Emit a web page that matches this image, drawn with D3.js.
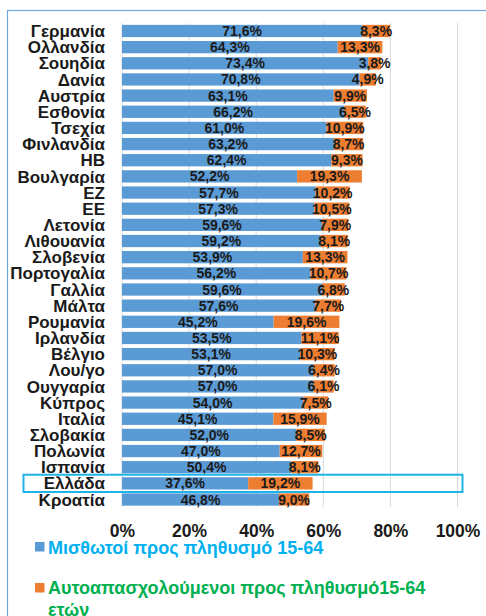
<!DOCTYPE html>
<html>
<head>
<meta charset="utf-8">
<script src="https://cdn.jsdelivr.net/npm/d3@7"></script>
<style>
  html, body { margin: 0; padding: 0; background: #fff; }
  svg { display: block; font-family: "Liberation Sans", Arial, sans-serif; }
</style>
</head>
<body>
<div id="chart"></div>
<script>
// Countries, top to bottom
const countries = ['Γερμανία', 'Ολλανδία', 'Σουηδία', 'Δανία', 'Αυστρία', 'Εσθονία', 'Τσεχία',
    'Φινλανδία', 'ΗΒ', 'Βουλγαρία', 'ΕΖ', 'ΕΕ', 'Λετονία', 'Λιθουανία', 'Σλοβενία', 'Πορτογαλία',
    'Γαλλία', 'Μάλτα', 'Ρουμανία', 'Ιρλανδία', 'Βέλγιο', 'Λου/γο', 'Ουγγαρία', 'Κύπρος', 'Ιταλία',
    'Σλοβακία', 'Πολωνία', 'Ισπανία', 'Ελλάδα', 'Κροατία'];
// Employees / population 15-64 (%)
const employees = [71.6, 64.3, 73.4, 70.8, 63.1, 66.2, 61.0, 63.2, 62.4, 52.2, 57.7, 57.3, 59.6,
    59.2, 53.9, 56.2, 59.6, 57.6, 45.2, 53.5, 53.1, 57.0, 57.0, 54.0, 45.1, 52.0, 47.0, 50.4, 37.6, 46.8];
// Self-employed / population 15-64 (%)
const selfEmployed = [8.3, 13.3, 3.8, 4.9, 9.9, 6.5, 10.9, 8.7, 9.3, 19.3, 10.2, 10.5, 7.9,
    8.1, 13.3, 10.7, 6.8, 7.7, 19.6, 11.1, 10.3, 6.4, 6.1, 7.5, 15.9, 8.5, 12.7, 8.1, 19.2, 9.0];
const highlighted = 'Ελλάδα';
const seriesNames = ['Μισθωτοί προς πληθυσμό 15-64', 'Αυτοαπασχολούμενοι προς πληθυσμό15-64', 'ετών'];

const width = 486, height = 616;
const colors = { emp: '#5B9BD5', self: '#ED7D31' };

const svg = d3.select('#chart').append('svg')
    .attr('width', width)
    .attr('height', height);

// Outer frame
svg.append('rect')
    .attr('x', 7.5).attr('y', 10.5)
    .attr('width', 490).attr('height', 620)
    .attr('fill', 'none')
    .attr('stroke', '#6FA8DC')
    .attr('stroke-width', 1.2);

const x = d3.scaleLinear().domain([0, 1]).range([122, 457.5]);
const y = d3.scaleBand().domain(countries).range([22.9, 507.6]).paddingInner(0.24).paddingOuter(0.12);

const locale = d3.formatLocale({ decimal: ',', thousands: '.', grouping: [3], currency: ['', '€'] });
const fmtVal = v => locale.format('.1f')(v) + '%';

// Grid lines
svg.append('g')
    .selectAll('line')
    .data(x.ticks(5))
    .join('line')
    .attr('x1', d => x(d)).attr('x2', d => x(d))
    .attr('y1', 23).attr('y2', 507)
    .attr('stroke', '#D9D9D9')
    .attr('stroke-width', 1);

const rows = countries.map((c, i) => ({ c, emp: employees[i] / 100, self: selfEmployed[i] / 100 }));

const row = svg.append('g').selectAll('g')
    .data(rows)
    .join('g')
    .attr('transform', d => `translate(0,${y(d.c)})`);

row.append('rect')
    .attr('x', x(0))
    .attr('width', d => x(d.emp) - x(0))
    .attr('height', y.bandwidth())
    .attr('fill', colors.emp);

row.append('rect')
    .attr('x', d => x(d.emp))
    .attr('width', d => x(d.emp + d.self) - x(d.emp))
    .attr('height', y.bandwidth())
    .attr('fill', colors.self);

const labelStyle = sel => sel
    .attr('y', y.bandwidth() / 2)
    .attr('dy', '0.36em')
    .attr('text-anchor', 'middle')
    .attr('font-size', 14)
    .attr('font-weight', 'bold')
    .attr('fill', '#1a1a1a');

row.append('text')
    .call(labelStyle)
    .attr('x', d => (x(0) + x(d.emp)) / 2)
    .text(d => fmtVal(d.emp * 100));

row.append('text')
    .call(labelStyle)
    .attr('x', d => (x(d.emp) + x(d.emp + d.self)) / 2)
    .text(d => fmtVal(d.self * 100));

// Category labels
row.append('text')
    .attr('x', 105)
    .attr('y', y.bandwidth() / 2)
    .attr('dy', '0.36em')
    .attr('text-anchor', 'end')
    .attr('font-size', 17)
    .attr('font-weight', 'bold')
    .attr('fill', '#1a1a1a')
    .text(d => d.c);

// Highlight box around Greece
svg.append('rect')
    .attr('x', 23.5)
    .attr('y', y(highlighted) - 2.5)
    .attr('width', 439)
    .attr('height', y.bandwidth() + 5)
    .attr('fill', 'none')
    .attr('stroke', '#1FB3E8')
    .attr('stroke-width', 2);

// X axis
const xAxis = svg.append('g')
    .attr('transform', 'translate(0,519)')
    .call(d3.axisBottom(x).ticks(5).tickFormat(d3.format('.0%')).tickSize(0));
xAxis.select('.domain').remove();
xAxis.selectAll('text')
    .attr('y', 0)
    .attr('dy', '1.05em')
    .attr('font-family', '"Liberation Sans", Arial, sans-serif')
    .attr('font-size', 17.5)
    .attr('font-weight', 'bold')
    .attr('fill', '#1a1a1a');

// Legend
const legend = svg.append('g');
legend.append('rect').attr('x', 35).attr('y', 542).attr('width', 9.5).attr('height', 9.5).attr('fill', colors.emp);
legend.append('text').attr('x', 48).attr('y', 554)
    .attr('font-size', 18).attr('font-weight', 'bold').attr('fill', '#00B0F0')
    .text(seriesNames[0]);
legend.append('rect').attr('x', 35).attr('y', 583).attr('width', 9.5).attr('height', 9.5).attr('fill', colors.self);
legend.append('text').attr('x', 48).attr('y', 594)
    .attr('font-size', 18).attr('font-weight', 'bold').attr('fill', '#00B050')
    .text(seriesNames[1]);
legend.append('text').attr('x', 48).attr('y', 616)
    .attr('font-size', 18).attr('font-weight', 'bold').attr('fill', '#00B050')
    .text(seriesNames[2]);
</script>
</body>
</html>
